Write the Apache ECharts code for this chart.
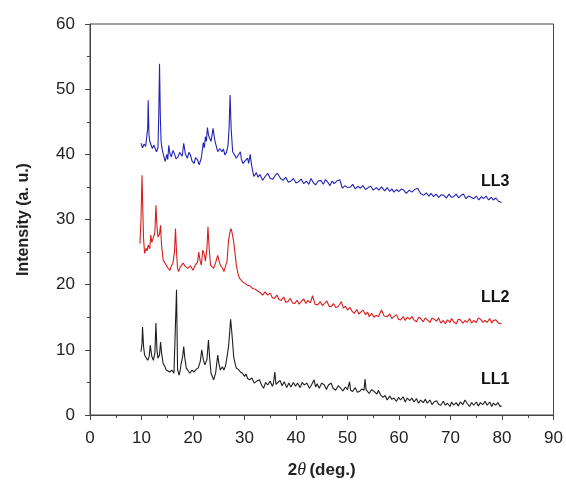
<!DOCTYPE html>
<html>
<head>
<meta charset="utf-8">
<script src="https://cdn.jsdelivr.net/npm/echarts@6/dist/echarts.min.js"></script>
<style>html,body{margin:0;padding:0;background:#fff}#c{width:566px;height:485px}</style>
</head>
<body>
<div id="c"></div>
<script>
const xTicks = [0, 10, 20, 30, 40, 50, 60, 70, 80, 90];
const yTicks = [0, 10, 20, 30, 40, 50, 60];
const seriesNames = ['LL3', 'LL2', 'LL1'];

// LL3 (blue) as [2theta, intensity]
const ll3 = [
[9.9,41.7],[10.2,41.0],[10.5,41.6],[10.8,41.2],[11.0,41.5],[11.2,44.0],[11.3,48.3],[11.45,43.0],[11.6,42.0],[11.9,41.7],[12.1,40.9],[12.4,41.4],[12.7,40.8],[12.9,40.4],[13.2,41.0],[13.35,46.0],[13.5,53.9],[13.65,46.0],[13.8,42.0],[14.0,40.8],[14.2,40.1],[14.4,39.5],[14.6,38.9],[14.9,40.0],[15.1,39.2],[15.3,41.4],[15.5,40.2],[15.8,39.6],[16.1,40.6],[16.4,40.1],[16.7,39.3],[17.1,39.6],[17.4,40.3],[17.7,40.4],[17.9,39.7],[18.2,41.7],[18.5,40.1],[18.9,39.4],[19.2,40.3],[19.5,39.9],[19.8,39.0],[20.2,38.6],[20.5,39.5],[20.9,39.1],[21.2,38.4],[21.6,39.4],[22.0,41.8],[22.2,41.0],[22.4,42.7],[22.6,42.0],[22.8,44.1],[23.0,43.0],[23.2,42.5],[23.5,42.0],[23.9,44.0],[24.1,42.8],[24.3,41.9],[24.6,41.0],[24.8,40.4],[25.2,40.9],[25.6,40.4],[25.9,40.8],[26.2,39.9],[26.5,40.3],[26.8,41.4],[27.0,44.0],[27.2,49.1],[27.4,44.0],[27.7,40.4],[28.0,40.0],[28.4,39.4],[28.8,39.9],[29.2,40.4],[29.4,39.2],[29.7,38.6],[30.1,39.0],[30.6,39.4],[30.8,38.6],[31.1,40.0],[31.4,38.2],[31.8,36.6],[32.3,37.2],[32.6,36.5],
[33.0,36.9],[33.5,36.0],[34.0,36.6],[34.5,37.1],[35.0,36.3],[35.5,36.2],[36.0,36.8],[36.4,37.1],[37.0,36.3],[37.5,36.0],[38.0,36.5],[38.5,35.7],[39.0,35.9],[39.5,36.3],[40.0,35.6],[40.5,35.8],[41.0,36.2],[41.5,35.5],[42.0,35.9],[42.5,35.4],[42.9,36.3],[43.4,35.6],[43.8,35.3],[44.3,35.9],[44.8,36.0],[45.3,35.4],[45.7,36.1],[46.1,35.8],[46.6,35.2],[47.0,35.9],[47.4,35.5],[47.9,35.9],[48.5,36.1],[49.0,34.8],[49.5,35.2],[50.0,34.9],[50.6,35.0],[51.0,35.4],[51.5,34.7],[52.0,35.1],[52.5,34.8],[53.0,35.2],[53.5,34.6],[54.0,34.9],[54.5,35.1],[55.0,34.5],[55.6,34.9],[56.1,34.5],[56.6,35.0],[57.2,34.4],[57.7,34.9],[58.2,34.3],[58.6,34.7],[59.0,34.2],[59.5,34.6],[60.0,34.3],[60.5,34.7],[60.9,34.5],[61.4,34.0],[62.0,34.5],[62.5,34.2],[63.0,34.6],[63.6,34.8],[64.2,34.0],[64.8,33.7],[65.3,34.1],[65.8,33.6],[66.2,34.0],[66.7,33.5],[67.2,33.9],[67.7,33.4],[68.2,33.8],[68.7,33.7],[69.2,33.3],[69.7,33.9],[70.2,33.4],[70.6,33.5],[71.1,33.9],[71.6,33.3],[72.0,33.7],[72.5,33.9],[73.0,33.2],[73.5,33.6],[74.0,33.4],[74.5,33.2],[75.0,33.6],[75.5,33.0],[76.0,33.5],[76.4,33.2],[76.9,33.6],[77.4,33.0],[77.9,33.4],[78.3,33.0],[78.8,33.3],[79.3,32.8],[79.9,32.6]
];

// LL2 (red)
const ll2 = [
[9.7,26.3],[9.9,30.0],[10.1,36.8],[10.3,30.0],[10.4,27.0],[10.6,24.8],[10.9,25.6],[11.1,25.2],[11.3,26.1],[11.6,25.5],[11.8,27.6],[12.0,26.5],[12.3,26.3],[12.6,28.0],[12.8,32.2],[13.0,29.0],[13.2,27.3],[13.5,27.8],[13.7,29.1],[13.9,26.0],[14.2,23.8],[14.5,23.5],[14.8,23.0],[15.1,22.6],[15.5,22.2],[15.8,22.9],[16.1,23.3],[16.4,25.0],[16.6,28.6],[16.8,25.0],[17.0,22.5],[17.2,22.0],[17.5,22.7],[17.8,23.0],[18.1,23.3],[18.5,22.8],[19.0,22.5],[19.5,22.9],[20.0,22.2],[20.3,22.8],[20.6,22.5],[20.9,23.5],[21.1,25.0],[21.4,23.6],[21.6,23.0],[21.9,25.3],[22.2,24.6],[22.4,23.6],[22.7,25.5],[22.9,28.9],[23.1,26.0],[23.4,23.0],[23.7,22.7],[24.0,22.5],[24.4,23.4],[24.8,24.5],[25.0,23.8],[25.3,23.0],[25.7,22.6],[26.0,22.0],[26.3,22.8],[26.6,23.6],[26.9,26.8],[27.2,28.2],[27.4,28.6],[27.6,27.9],[27.9,26.6],[28.2,24.5],[28.4,23.0],[28.7,21.8],[29.0,21.0],[29.3,20.9],[29.7,20.4],[30.1,20.2],[30.6,19.9],[31.1,19.8],[31.6,19.4],[32.1,19.3],[32.6,19.0],[33.0,18.8],
[33.5,18.4],[34.0,18.9],[34.5,18.4],[35.0,18.7],[35.4,18.0],[35.8,17.9],[36.3,18.4],[36.7,17.7],[37.1,17.6],[37.6,18.1],[38.0,17.3],[38.4,17.4],[38.9,17.9],[39.3,17.2],[39.7,17.1],[40.2,17.6],[40.6,17.0],[41.0,17.4],[41.5,17.8],[41.9,17.1],[42.3,17.6],[42.8,17.2],[43.2,18.3],[43.7,17.0],[44.2,16.9],[44.7,17.4],[45.1,16.8],[45.5,17.1],[46.0,17.5],[46.4,16.7],[46.8,16.6],[47.3,17.1],[47.7,16.5],[48.1,16.6],[48.5,17.0],[48.8,17.4],[49.2,16.4],[49.6,16.7],[50.0,16.1],[50.5,16.5],[50.9,15.9],[51.3,15.6],[51.8,16.2],[52.2,15.5],[52.6,15.8],[53.0,16.1],[53.5,15.4],[53.9,15.8],[54.2,15.1],[54.7,15.6],[55.1,15.0],[55.5,15.3],[56.0,15.1],[56.6,16.1],[57.1,15.2],[57.7,15.1],[58.2,15.5],[58.6,14.8],[59.0,15.1],[59.5,15.4],[59.9,14.7],[60.3,14.6],[60.8,15.1],[61.2,14.5],[61.6,15.0],[62.1,14.7],[62.5,15.1],[62.9,14.6],[63.4,14.3],[63.8,15.0],[64.2,14.8],[64.7,14.3],[65.1,14.9],[65.5,14.6],[66.0,14.2],[66.4,14.9],[66.8,14.7],[67.3,14.4],[67.7,14.9],[68.1,14.1],[68.6,14.5],[69.0,14.0],[69.4,14.6],[69.9,14.2],[70.2,14.8],[70.6,14.3],[71.1,14.0],[71.5,14.7],[71.9,14.6],[72.4,14.1],[72.8,14.5],[73.2,14.2],[73.7,14.8],[74.1,14.1],[74.5,14.5],[75.0,14.2],[75.4,14.9],[75.8,14.7],[76.3,14.2],[76.7,14.5],[77.1,14.2],[77.6,14.8],[78.0,14.1],[78.3,14.5],[78.8,14.6],[79.3,14.1],[79.6,14.4],[79.9,14.0]
];

// LL1 (black)
const ll1 = [
[9.9,9.7],[10.1,11.0],[10.2,13.5],[10.4,10.5],[10.6,9.2],[10.9,9.0],[11.2,8.4],[11.5,9.0],[11.7,10.7],[12.0,9.0],[12.3,8.4],[12.6,9.5],[12.8,14.1],[13.0,10.0],[13.2,8.7],[13.5,9.2],[13.7,11.2],[13.9,9.5],[14.2,7.9],[14.5,7.5],[14.8,6.9],[15.1,7.1],[15.5,6.6],[15.9,6.9],[16.3,6.4],[16.6,6.5],[16.8,19.2],[17.0,7.0],[17.3,6.1],[17.5,6.8],[17.7,7.9],[18.0,9.0],[18.2,10.5],[18.4,8.8],[18.7,7.2],[19.0,6.9],[19.4,6.4],[19.8,6.9],[20.2,6.6],[20.6,7.0],[21.0,7.2],[21.4,8.2],[21.7,10.0],[22.0,8.5],[22.3,7.7],[22.7,8.5],[23.0,11.5],[23.2,9.0],[23.5,6.4],[24.0,5.4],[24.4,6.5],[24.8,9.2],[25.0,8.0],[25.3,6.9],[25.7,7.4],[26.0,6.9],[26.3,7.5],[26.6,8.9],[26.9,10.5],[27.1,12.5],[27.3,14.7],[27.5,13.0],[27.7,11.0],[27.9,8.9],[28.2,7.8],[28.4,7.2],[28.8,7.0],[29.2,6.6],[29.6,6.4],[30.0,5.9],[30.3,6.3],[30.6,5.6],[31.0,5.4],[31.4,5.7],[31.9,4.9],[32.4,5.2],[32.9,5.4],[33.3,4.6],
[33.7,4.1],[34.1,5.0],[34.5,4.6],[35.0,5.2],[35.4,4.4],[35.6,4.8],[35.9,6.6],[36.1,4.7],[36.4,4.6],[36.9,5.3],[37.3,4.5],[37.7,5.1],[38.2,4.2],[38.6,4.9],[39.0,4.3],[39.5,5.0],[39.9,4.4],[40.3,4.9],[40.8,4.2],[41.2,5.0],[41.6,4.6],[42.1,4.9],[42.6,4.1],[43.0,4.6],[43.5,5.4],[43.8,4.3],[44.1,4.8],[44.5,4.1],[45.0,4.9],[45.5,4.6],[45.9,3.9],[46.3,4.6],[46.8,4.9],[47.2,4.1],[47.7,3.8],[48.2,4.5],[48.7,4.1],[49.1,3.7],[49.6,4.3],[50.0,3.9],[50.2,3.9],[50.4,5.1],[50.6,3.8],[51.0,3.6],[51.5,4.2],[51.9,3.5],[52.3,3.6],[52.8,4.0],[53.2,3.8],[53.4,5.5],[53.6,3.9],[54.2,3.3],[54.7,3.9],[55.2,3.6],[55.7,3.2],[56.0,3.8],[56.4,3.1],[56.9,2.7],[57.3,3.0],[57.7,2.3],[58.2,2.9],[58.6,2.4],[59.0,2.6],[59.5,2.1],[59.9,2.7],[60.3,2.3],[60.8,2.8],[61.2,2.0],[61.6,2.6],[62.1,2.2],[62.5,2.6],[62.9,2.0],[63.4,2.5],[63.8,1.8],[64.2,2.3],[64.7,1.9],[65.1,2.4],[65.5,1.8],[66.0,2.3],[66.4,1.6],[66.8,2.0],[67.3,2.2],[67.7,1.6],[68.1,1.5],[68.6,2.1],[69.0,1.5],[69.4,1.8],[69.9,1.3],[70.2,2.0],[70.6,1.5],[71.1,1.9],[71.5,1.4],[71.9,2.0],[72.4,1.6],[72.8,2.3],[73.2,1.8],[73.7,1.3],[74.1,1.9],[74.5,1.5],[75.0,2.0],[75.4,1.4],[75.8,1.9],[76.3,1.6],[76.7,2.1],[77.1,1.5],[77.6,2.0],[78.0,1.3],[78.3,1.8],[78.8,1.5],[79.2,1.9],[79.6,1.3],[79.9,1.4]
];

const colors = ['#2424b4', '#d81e1e', '#1e1e1e'];
const datas = [ll3, ll2, ll1];

const chart = echarts.init(document.getElementById('c'), null, {renderer: 'canvas'});
const axisCol = '#444';
chart.setOption({
  animation: false,
  backgroundColor: '#fff',
  grid: {left: 90, right: 11, top: 24, bottom: 70, show: true, borderColor: axisCol, borderWidth: 1},
  xAxis: {
    type: 'value', min: xTicks[0], max: xTicks[xTicks.length - 1], interval: 10,
    axisLine: {lineStyle: {color: axisCol, width: 1}},
    axisTick: {inside: false, length: 5, lineStyle: {color: axisCol}},
    minorTick: {show: true, splitNumber: 2, length: 3, lineStyle: {color: axisCol}},
    splitLine: {show: false},
    axisLabel: {fontFamily: 'Liberation Sans, Arial', fontSize: 17, color: '#222', margin: 15},
    name: '{b|2}{i|θ} {b|(deg.)}',
    nameLocation: 'middle', nameGap: 46,
    nameTextStyle: {rich: {
      b: {fontFamily: 'Liberation Sans, Arial', fontWeight: 'bold', fontSize: 17, color: '#222'},
      i: {fontFamily: 'Liberation Serif, Times New Roman', fontStyle: 'italic', fontSize: 18, color: '#222'}
    }}
  },
  yAxis: {
    type: 'value', min: yTicks[0], max: yTicks[yTicks.length - 1], interval: 10,
    axisLine: {show: true, lineStyle: {color: axisCol, width: 1}},
    axisTick: {show: true, inside: false, length: 5, lineStyle: {color: axisCol}},
    minorTick: {show: true, splitNumber: 2, length: 3, lineStyle: {color: axisCol}},
    splitLine: {show: false},
    axisLabel: {fontFamily: 'Liberation Sans, Arial', fontSize: 17, color: '#222', margin: 15},
    name: 'Intensity (a. u.)', nameLocation: 'middle', nameGap: 58, nameRotate: 90,
    nameTextStyle: {fontFamily: 'Liberation Sans, Arial', fontWeight: 'bold', fontSize: 16, color: '#222'}
  },
  series: seriesNames.map((n, i) => ({
    name: n, type: 'line', data: datas[i], showSymbol: false, symbol: 'none',
    lineStyle: {color: colors[i], width: 1.1}, z: 3 - i
  })),
  graphic: [
    {type: 'text', left: 481, top: 174, style: {text: 'LL3', font: 'bold 16px "Liberation Sans", Arial', fill: '#111'}},
    {type: 'text', left: 481, top: 290, style: {text: 'LL2', font: 'bold 16px "Liberation Sans", Arial', fill: '#111'}},
    {type: 'text', left: 481, top: 372, style: {text: 'LL1', font: 'bold 16px "Liberation Sans", Arial', fill: '#111'}}
  ]
});
</script>
</body>
</html>
